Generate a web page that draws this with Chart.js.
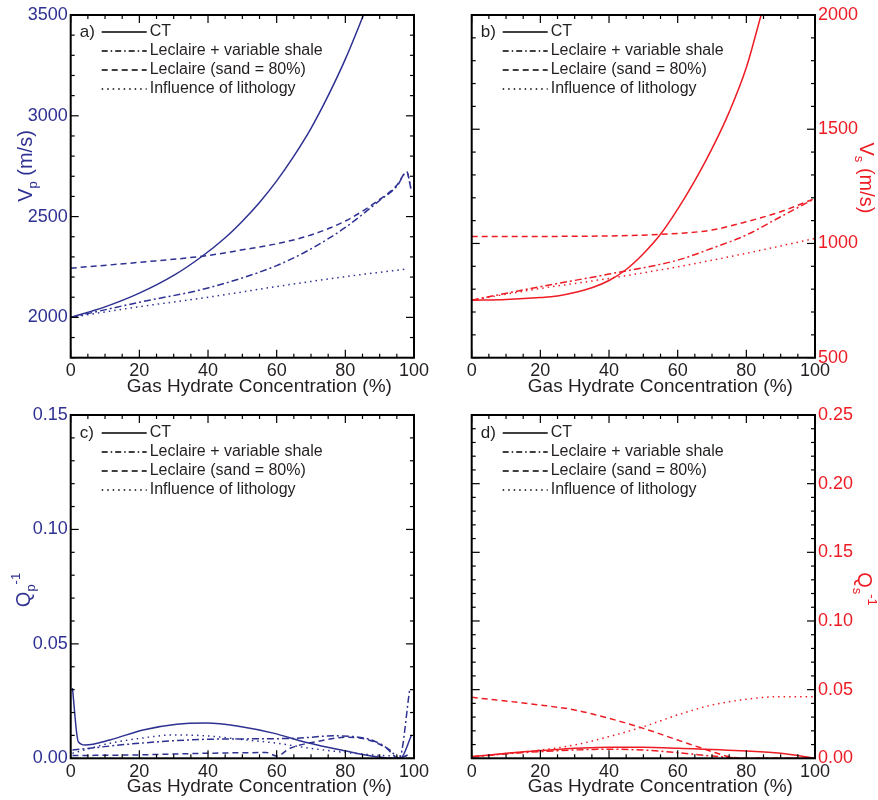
<!DOCTYPE html>
<html>
<head>
<meta charset="utf-8">
<script src="https://cdn.jsdelivr.net/npm/chart.js@4.4.0/dist/chart.umd.min.js"></script>
<style>
  body { margin: 0; background: #fff; }
  #wrap { position: relative; width: 878px; height: 800px; }
  canvas { position: absolute; }
</style>
</head>
<body>
<div id="wrap">
  <canvas id="chartA" width="439" height="400" style="left:0;top:0"></canvas>
  <canvas id="chartB" width="439" height="400" style="left:439px;top:0"></canvas>
  <canvas id="chartC" width="439" height="400" style="left:0;top:400px"></canvas>
  <canvas id="chartD" width="439" height="400" style="left:439px;top:400px"></canvas>
</div>
<script>
const FONT = "'Liberation Sans', Arial, Helvetica, sans-serif";
const BLUE = '#2e3192';
const RED = '#ed1c24';
const INK = '#231f20';

// x axis (hydrate concentration, %)
const hydrateTicks = [0, 20, 40, 60, 80, 100];
const legendNames = ['CT', 'Leclaire + variable shale', 'Leclaire (sand = 80%)', 'Influence of lithology'];

// a) Vp (m/s)
const vpTicks = [2000, 2500, 3000, 3500];
const vpCtX = [0, 10, 20, 30, 38.2, 45, 50, 55, 60, 65, 70, 75, 80, 86];
const vpCtY = [2000, 2052, 2120, 2208, 2302, 2395, 2477, 2570, 2677, 2800, 2938, 3100, 3281, 3530];
const vpShaleX = [0, 20, 40, 60, 70, 80, 90, 95, 97.9, 99.1];
const vpShaleY = [2000, 2075, 2146, 2257, 2340, 2446, 2580, 2650, 2721, 2639];
const vpSandX = [0, 20, 40, 50, 60, 70, 80, 90, 95, 97.9, 99.1];
const vpSandY = [2244, 2273, 2307, 2335, 2365, 2409, 2478, 2585, 2655, 2721, 2639];
const vpLithX = [0, 20, 40, 60, 80, 98];
const vpLithY = [2000, 2053, 2100, 2153, 2202, 2240];

// b) Vs (m/s)
const vsTicks = [500, 1000, 1500, 2000];
const vsCtX = [0, 10, 20, 25, 30, 35, 40, 45, 50, 55, 60, 65, 70, 75, 80, 84.3];
const vsCtY = [752, 755, 763, 770, 785, 806, 838, 886, 955, 1040, 1150, 1275, 1415, 1575, 1770, 2000];
const vsShaleX = [0, 20, 40, 60, 70, 80, 90, 100];
const vsShaleY = [752, 811, 866, 927, 979, 1037, 1117, 1197];
const vsSandX = [0, 40, 60, 70, 80, 90, 100];
const vsSandY = [1030, 1033, 1044, 1059, 1095, 1139, 1197];
const vsLithX = [0, 20, 40, 60, 80, 100];
const vsLithY = [752, 803, 847, 898, 957, 1022];

// c) Qp^-1
const qpTicks = [0, 0.05, 0.10, 0.15];
const qpCtX = [0.5, 2.2, 4.2, 11.4, 21.1, 30.9, 39.6, 49.3, 59, 68.7, 79.4, 89, 96, 99.3];
const qpCtY = [0.0307, 0.0073, 0.0058, 0.008, 0.0124, 0.0149, 0.0154, 0.0139, 0.011, 0.0069, 0.0034, 0.0007, 0, 0.0102];
const qpShaleX = [0.5, 20.2, 39.6, 64.9, 76.5, 82.3, 88.2, 93, 95.7, 98.8];
const qpShaleY = [0.0036, 0.0066, 0.0083, 0.0087, 0.0098, 0.0095, 0.0077, 0.0036, 0, 0.0306];
const qpSandX = [0.5, 20.2, 39.6, 57, 60, 63.9, 71.7, 80.4, 86.2, 92, 95.4, 98.3];
const qpSandY = [0.0012, 0.0015, 0.0022, 0.0025, 0.001, 0.0044, 0.0073, 0.0092, 0.0083, 0.0044, 0, 0.0015];
const qpLithX = [0.5, 11.5, 20.2, 29.9, 39.6, 49.3, 60, 69.7, 80.4, 91, 98.8];
const qpLithY = [0.0022, 0.0066, 0.0087, 0.0102, 0.0098, 0.0083, 0.0066, 0.0044, 0.0025, 0.0012, 0.001];

// d) Qs^-1
const qsTicks = [0, 0.05, 0.10, 0.15, 0.20, 0.25];
const qsCtX = [0, 20, 40, 50, 60, 80, 90, 100];
const qsCtY = [0.0012, 0.0056, 0.008, 0.008, 0.0073, 0.0053, 0.0036, 0];
const qsShaleX = [0, 20, 40, 50, 60, 70, 80, 100];
const qsShaleY = [0.0012, 0.0049, 0.0066, 0.006, 0.0041, 0.0017, 0, 0];
const qsSandX = [0, 20, 30, 40, 50, 60, 70, 75, 80, 100];
const qsSandY = [0.0444, 0.0388, 0.0352, 0.0291, 0.0218, 0.0133, 0.0049, 0.0012, 0, 0];
const qsLithX = [0, 20, 30, 40, 50, 60, 70, 80, 90, 100];
const qsLithY = [0.0012, 0.006, 0.0097, 0.0158, 0.023, 0.0316, 0.0388, 0.043, 0.0449, 0.0449];

const dashes = [[], [7, 3, 2, 3], [6, 4], [1.5, 4]];
const legendDashes = [[], [6, 3, 1.5, 3], [6, 4], [1.5, 4]];

function pts(xs, ys) {
  return xs.map((x, i) => ({ x: x, y: ys[i] }));
}

function makeSets(color, series) {
  return series.map((s, i) => ({
    label: legendNames[i],
    data: pts(s[0], s[1]),
    borderColor: color,
    borderWidth: 1.5,
    borderDash: dashes[i],
    pointRadius: 0,
    cubicInterpolationMode: 'monotone',
    fill: false
  }));
}

// draws text made of parts (normal / sub / super) rotated round its centre
function drawRich(ctx, parts, cx, cy, angle, color) {
  ctx.save();
  ctx.translate(cx, cy);
  ctx.rotate(angle);
  ctx.fillStyle = color;
  ctx.textBaseline = 'alphabetic';
  let total = 0;
  parts.forEach(p => {
    ctx.font = p.size + 'px ' + FONT;
    p.w = ctx.measureText(p.t).width;
    total += p.w;
  });
  let x = -total / 2;
  parts.forEach(p => {
    ctx.font = p.size + 'px ' + FONT;
    ctx.fillText(p.t, x, 7 + p.dy);
    x += p.w;
  });
  ctx.restore();
}

const frameTicks = {
  id: 'frameTicks',
  afterDatasetsDraw(chart, args, opts) {
    const { ctx, chartArea: a } = chart;
    const xs = chart.scales.x, ys = chart.scales.y;
    ctx.save();
    ctx.strokeStyle = '#000';
    ctx.lineWidth = 1.2;
    const seg = (x1, y1, x2, y2) => { ctx.beginPath(); ctx.moveTo(x1, y1); ctx.lineTo(x2, y2); ctx.stroke(); };
    let n = Math.round((xs.max - xs.min) / opts.xMinor);
    for (let i = 0; i <= n; i++) {
      const v = xs.min + i * opts.xMinor;
      const px = xs.getPixelForValue(v);
      const r = v / opts.xMajor;
      const len = Math.abs(r - Math.round(r)) < 1e-6 ? 8 : 4;
      seg(px, a.bottom, px, a.bottom - len);
      seg(px, a.top, px, a.top + len);
    }
    n = Math.round((ys.max - ys.min) / opts.yMinor);
    for (let i = 0; i <= n; i++) {
      const v = ys.min + i * opts.yMinor;
      const py = ys.getPixelForValue(v);
      const r = v / opts.yMajor;
      const len = Math.abs(r - Math.round(r)) < 1e-6 ? 8 : 4;
      seg(a.left, py, a.left + len, py);
      seg(a.right, py, a.right - len, py);
    }
    ctx.lineWidth = 2;
    ctx.strokeRect(a.left, a.top, a.right - a.left, a.bottom - a.top);
    ctx.restore();
  }
};

const panelText = {
  id: 'panelText',
  afterDraw(chart, args, opts) {
    const { ctx, chartArea: a } = chart;
    ctx.save();
    ctx.fillStyle = INK;
    ctx.strokeStyle = '#000';
    ctx.textBaseline = 'middle';
    ctx.font = '17px ' + FONT;
    ctx.fillText(opts.letter, a.left + 9, a.top + opts.row0);
    ctx.font = '16px ' + FONT;
    legendNames.forEach((name, i) => {
      const yy = a.top + opts.row0 + i * 19;
      ctx.setLineDash(legendDashes[i]);
      ctx.lineWidth = 1.4;
      ctx.beginPath();
      ctx.moveTo(a.left + 31, yy);
      ctx.lineTo(a.left + 76, yy);
      ctx.stroke();
      ctx.setLineDash([]);
      ctx.fillText(name, a.left + 79, yy);
    });
    // x axis title
    ctx.font = '19px ' + FONT;
    ctx.textAlign = 'center';
    ctx.fillText('Gas Hydrate Concentration (%)', (a.left + a.right) / 2 + 17, 387);
    ctx.restore();
    drawRich(ctx, opts.yTitle, opts.yTitleX, opts.yTitleY, opts.right ? Math.PI / 2 : -Math.PI / 2, opts.color);
  }
};

function makeChart(id, cfg) {
  const W = 439, H = 400;
  const area = cfg.area;
  const padding = cfg.right
    ? { left: area.left, top: area.top, right: 0, bottom: 0 }
    : { left: 0, top: area.top, right: W - area.right, bottom: 0 };
  return new Chart(document.getElementById(id).getContext('2d'), {
    type: 'line',
    data: { datasets: makeSets(cfg.color, cfg.series) },
    options: {
      responsive: false,
      animation: false,
      layout: { padding: padding },
      scales: {
        x: {
          type: 'linear',
          min: 0,
          max: 100,
          afterFit: s => { s.height = H - area.bottom; },
          afterBuildTicks: s => { s.ticks = hydrateTicks.map(v => ({ value: v })); },
          grid: { display: false, drawTicks: false },
          border: { display: false },
          ticks: { color: INK, padding: 3, maxRotation: 0, font: { family: FONT, size: 18 } }
        },
        y: {
          type: 'linear',
          position: cfg.right ? 'right' : 'left',
          min: cfg.yMin,
          max: cfg.yMax,
          afterFit: s => { s.width = cfg.right ? W - area.right : area.left; },
          afterBuildTicks: s => { s.ticks = cfg.yTicks.map(v => ({ value: v })); },
          grid: { display: false, drawTicks: false },
          border: { display: false },
          ticks: {
            color: cfg.color,
            padding: 3,
            font: { family: FONT, size: 18 },
            callback: v => cfg.decimals ? v.toFixed(cfg.decimals) : String(v)
          }
        }
      },
      plugins: {
        legend: { display: false },
        tooltip: { enabled: false },
        frameTicks: { xMinor: 5, xMajor: 20, yMinor: cfg.yMinor, yMajor: cfg.yMajor },
        panelText: {
          letter: cfg.letter, row0: cfg.row0, color: cfg.color, right: cfg.right,
          yTitle: cfg.yTitle, yTitleX: cfg.yTitleX, yTitleY: cfg.yTitleY
        }
      }
    },
    plugins: [frameTicks, panelText]
  });
}

makeChart('chartA', {
  area: { left: 70.7, top: 15, right: 414, bottom: 357.7 },
  color: BLUE, right: false, letter: 'a)', row0: 17,
  yMin: 1800, yMax: 3500, yTicks: vpTicks, yMinor: 100, yMajor: 500, decimals: 0,
  series: [[vpCtX, vpCtY], [vpShaleX, vpShaleY], [vpSandX, vpSandY], [vpLithX, vpLithY]],
  yTitle: [{ t: 'V', size: 20, dy: 0 }, { t: 'p', size: 13, dy: 5 }, { t: ' (m/s)', size: 20, dy: 0 }],
  yTitleX: 25, yTitleY: 166
});

makeChart('chartB', {
  area: { left: 32.7, top: 15, right: 376, bottom: 357.7 },
  color: RED, right: true, letter: 'b)', row0: 17,
  yMin: 500, yMax: 2000, yTicks: vsTicks, yMinor: 100, yMajor: 500, decimals: 0,
  series: [[vsCtX, vsCtY], [vsShaleX, vsShaleY], [vsSandX, vsSandY], [vsLithX, vsLithY]],
  yTitle: [{ t: 'V', size: 20, dy: 0 }, { t: 's', size: 13, dy: 5 }, { t: ' (m/s)', size: 20, dy: 0 }],
  yTitleX: 427.5, yTitleY: 178
});

makeChart('chartC', {
  area: { left: 70.7, top: 15, right: 414, bottom: 358.3 },
  color: BLUE, right: false, letter: 'c)', row0: 18,
  yMin: 0, yMax: 0.15, yTicks: qpTicks, yMinor: 0.01, yMajor: 0.05, decimals: 2,
  series: [[qpCtX, qpCtY], [qpShaleX, qpShaleY], [qpSandX, qpSandY], [qpLithX, qpLithY]],
  yTitle: [{ t: 'Q', size: 20, dy: 0 }, { t: 'p', size: 13, dy: 5 }, { t: '-1', size: 13, dy: -10 }],
  yTitleX: 23, yTitleY: 190
});

makeChart('chartD', {
  area: { left: 32.7, top: 15, right: 376, bottom: 358.3 },
  color: RED, right: true, letter: 'd)', row0: 18,
  yMin: 0, yMax: 0.25, yTicks: qsTicks, yMinor: 0.01, yMajor: 0.05, decimals: 2,
  series: [[qsCtX, qsCtY], [qsShaleX, qsShaleY], [qsSandX, qsSandY], [qsLithX, qsLithY]],
  yTitle: [{ t: 'Q', size: 20, dy: 0 }, { t: 's', size: 13, dy: 5 }, { t: '-1', size: 13, dy: -10 }],
  yTitleX: 426, yTitleY: 189
});
</script>
</body>
</html>
